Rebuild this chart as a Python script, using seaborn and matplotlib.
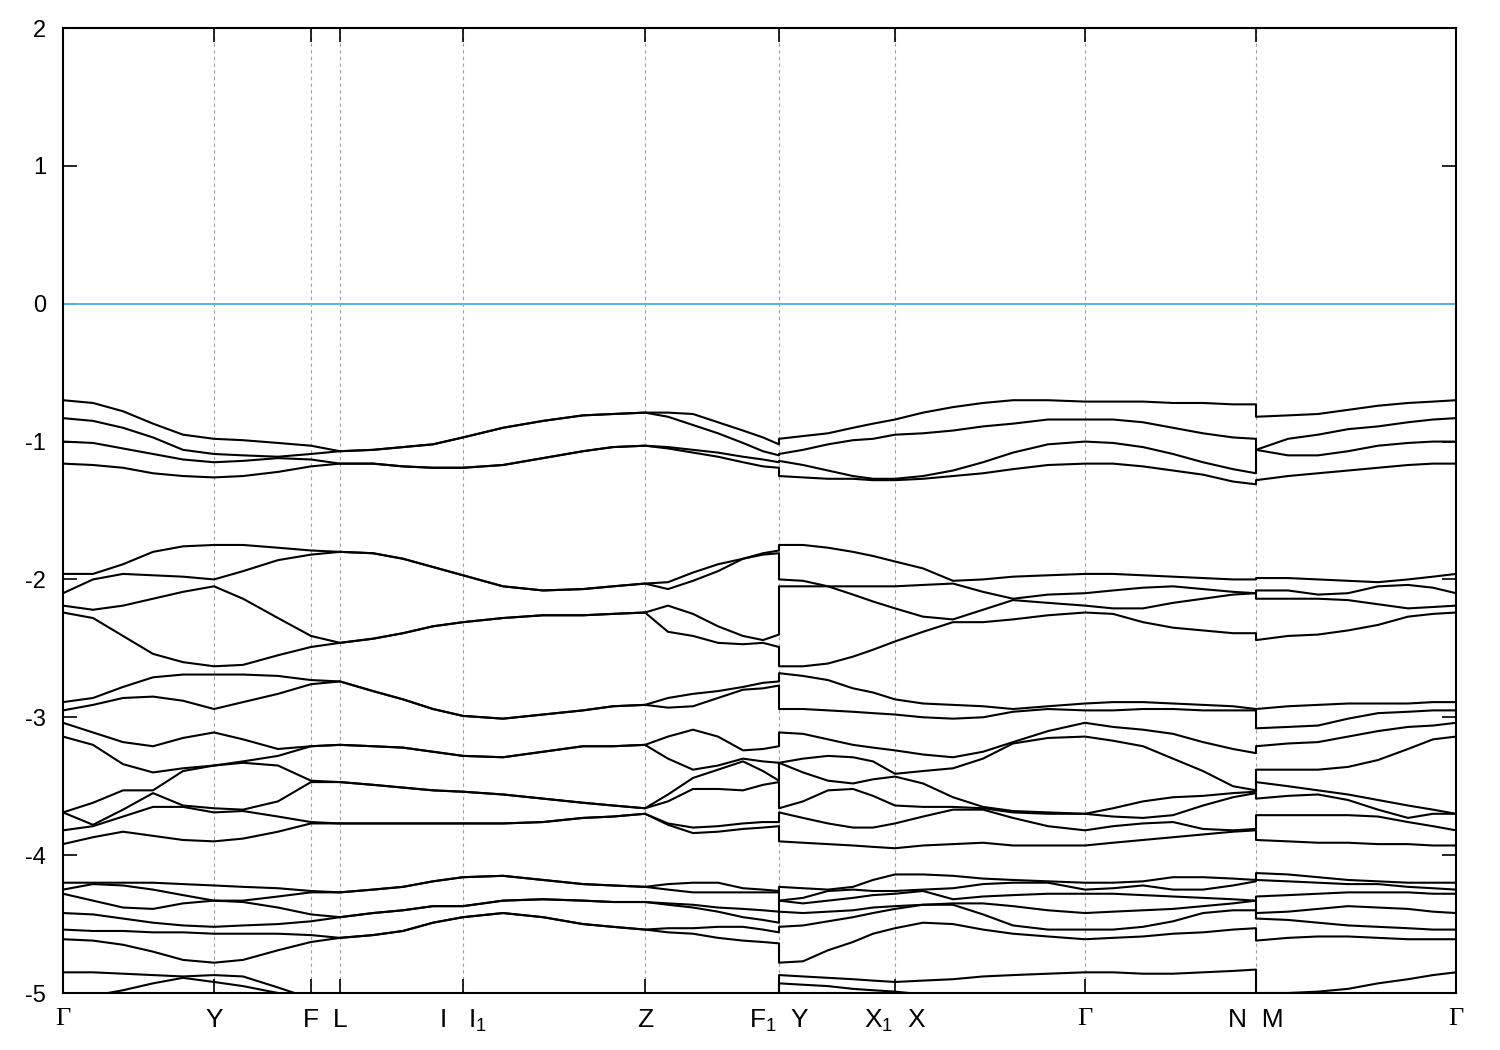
import numpy as np
import pandas as pd
import matplotlib
matplotlib.use("Agg")
import matplotlib.pyplot as plt
import seaborn as sns

# ── k-path (arb. units). Repeated value = jump at F1|Y and N|M ────────────────
k_path = [0, 30, 60, 90, 120, 151, 180, 215, 248, 277, 310, 340, 370, 400,
          440, 480, 520, 550, 582, 605, 630, 655, 680, 700, 716, 716, 740,
          765, 790, 810, 832, 860, 890, 920, 950, 985, 1022, 1050, 1080, 1110,
          1140, 1170, 1193, 1193, 1225, 1255, 1285, 1315, 1345, 1370, 1393]

tick_pos = [0, 151, 248, 277, 400, 582, 716, 832, 1022, 1193, 1393]
tick_labels = ["Γ", "Y", "F", "L", "I   I$_1$", "Z", "F$_1$  Y", "X$_1$  X",
               "Γ", "N  M", "Γ"]

# ── Energies (eV), one row per k point, highest band first ───────────────────
bands_top = [
    [-0.70, -0.83, -1.00, -1.16], [-0.72, -0.85, -1.01, -1.17],
    [-0.78, -0.90, -1.05, -1.19], [-0.87, -0.97, -1.09, -1.23],
    [-0.95, -1.06, -1.13, -1.25], [-0.98, -1.09, -1.15, -1.26],
    [-0.99, -1.10, -1.14, -1.25], [-1.01, -1.11, -1.12, -1.22],
    [-1.03, -1.09, -1.13, -1.18], [-1.07, -1.07, -1.16, -1.16],
    [-1.06, -1.06, -1.16, -1.16], [-1.04, -1.04, -1.18, -1.18],
    [-1.02, -1.02, -1.19, -1.19], [-0.97, -0.97, -1.19, -1.19],
    [-0.90, -0.90, -1.17, -1.17], [-0.85, -0.85, -1.12, -1.12],
    [-0.81, -0.81, -1.07, -1.07], [-0.80, -0.80, -1.04, -1.04],
    [-0.79, -0.79, -1.03, -1.03], [-0.79, -0.82, -1.04, -1.05],
    [-0.80, -0.88, -1.06, -1.08], [-0.86, -0.94, -1.08, -1.11],
    [-0.92, -1.01, -1.11, -1.15], [-0.97, -1.07, -1.13, -1.18],
    [-1.02, -1.10, -1.15, -1.19], [-0.98, -1.09, -1.14, -1.25],
    [-0.96, -1.06, -1.17, -1.26], [-0.94, -1.02, -1.21, -1.27],
    [-0.90, -0.99, -1.25, -1.27], [-0.87, -0.98, -1.27, -1.28],
    [-0.84, -0.95, -1.27, -1.28], [-0.79, -0.94, -1.25, -1.27],
    [-0.75, -0.92, -1.21, -1.25], [-0.72, -0.89, -1.15, -1.23],
    [-0.70, -0.87, -1.08, -1.20], [-0.70, -0.84, -1.02, -1.17],
    [-0.71, -0.84, -1.00, -1.16], [-0.71, -0.84, -1.01, -1.16],
    [-0.71, -0.86, -1.04, -1.18], [-0.72, -0.90, -1.09, -1.21],
    [-0.72, -0.94, -1.15, -1.24], [-0.73, -0.97, -1.20, -1.29],
    [-0.73, -0.98, -1.23, -1.31], [-0.82, -1.06, -1.06, -1.28],
    [-0.81, -0.98, -1.10, -1.25], [-0.80, -0.95, -1.10, -1.23],
    [-0.77, -0.91, -1.07, -1.21], [-0.74, -0.89, -1.03, -1.19],
    [-0.72, -0.86, -1.01, -1.17], [-0.71, -0.84, -1.00, -1.16],
    [-0.70, -0.83, -1.00, -1.16],
]

bands_mid = [
    [-1.96, -2.10, -2.19, -2.24], [-1.96, -2.00, -2.22, -2.28],
    [-1.89, -1.96, -2.19, -2.41], [-1.80, -1.97, -2.14, -2.54],
    [-1.76, -1.98, -2.09, -2.60], [-1.75, -2.00, -2.05, -2.63],
    [-1.75, -1.94, -2.14, -2.62], [-1.77, -1.86, -2.28, -2.55],
    [-1.79, -1.82, -2.41, -2.49], [-1.80, -1.80, -2.46, -2.46],
    [-1.81, -1.81, -2.43, -2.43], [-1.85, -1.85, -2.39, -2.39],
    [-1.91, -1.91, -2.34, -2.34], [-1.97, -1.97, -2.31, -2.31],
    [-2.05, -2.05, -2.28, -2.28], [-2.08, -2.08, -2.26, -2.26],
    [-2.07, -2.07, -2.26, -2.26], [-2.05, -2.05, -2.25, -2.25],
    [-2.03, -2.03, -2.24, -2.24], [-2.02, -2.07, -2.19, -2.38],
    [-1.95, -2.01, -2.25, -2.41], [-1.89, -1.94, -2.34, -2.46],
    [-1.85, -1.85, -2.41, -2.47], [-1.81, -1.82, -2.44, -2.46],
    [-1.79, -1.81, -2.40, -2.49], [-1.75, -2.00, -2.05, -2.63],
    [-1.75, -2.01, -2.05, -2.63], [-1.77, -2.05, -2.05, -2.61],
    [-1.80, -2.05, -2.11, -2.56], [-1.83, -2.05, -2.16, -2.51],
    [-1.87, -2.05, -2.21, -2.45], [-1.92, -2.04, -2.27, -2.38],
    [-2.01, -2.03, -2.29, -2.31], [-2.00, -2.09, -2.22, -2.31],
    [-1.98, -2.14, -2.15, -2.29], [-1.97, -2.11, -2.17, -2.26],
    [-1.96, -2.10, -2.19, -2.24], [-1.96, -2.08, -2.21, -2.25],
    [-1.97, -2.06, -2.21, -2.31], [-1.98, -2.05, -2.17, -2.35],
    [-1.99, -2.07, -2.14, -2.37], [-2.00, -2.09, -2.11, -2.39],
    [-2.00, -2.10, -2.10, -2.39], [-1.99, -2.08, -2.14, -2.44],
    [-1.99, -2.08, -2.14, -2.41], [-2.00, -2.11, -2.14, -2.40],
    [-2.01, -2.10, -2.15, -2.37], [-2.02, -2.05, -2.18, -2.33],
    [-2.00, -2.04, -2.21, -2.27], [-1.98, -2.06, -2.20, -2.25],
    [-1.96, -2.10, -2.19, -2.24],
]

bands_low = [
    [-2.89, -2.95, -3.04, -3.14, -3.69, -3.69, -3.82, -3.92],
    [-2.86, -2.91, -3.11, -3.20, -3.62, -3.78, -3.79, -3.87],
    [-2.78, -2.86, -3.18, -3.34, -3.53, -3.67, -3.72, -3.83],
    [-2.71, -2.85, -3.21, -3.40, -3.53, -3.55, -3.65, -3.86],
    [-2.69, -2.88, -3.15, -3.37, -3.39, -3.64, -3.65, -3.89],
    [-2.69, -2.94, -3.11, -3.35, -3.35, -3.66, -3.69, -3.90],
    [-2.69, -2.89, -3.16, -3.32, -3.33, -3.67, -3.68, -3.88],
    [-2.70, -2.83, -3.23, -3.28, -3.35, -3.61, -3.72, -3.83],
    [-2.73, -2.76, -3.21, -3.21, -3.46, -3.47, -3.76, -3.77],
    [-2.74, -2.74, -3.20, -3.20, -3.47, -3.47, -3.77, -3.77],
    [-2.81, -2.81, -3.21, -3.21, -3.49, -3.49, -3.77, -3.77],
    [-2.87, -2.87, -3.22, -3.22, -3.51, -3.51, -3.77, -3.77],
    [-2.94, -2.94, -3.25, -3.25, -3.53, -3.53, -3.77, -3.77],
    [-2.99, -2.99, -3.28, -3.28, -3.54, -3.54, -3.77, -3.77],
    [-3.01, -3.01, -3.29, -3.29, -3.56, -3.56, -3.77, -3.77],
    [-2.98, -2.98, -3.25, -3.25, -3.59, -3.59, -3.76, -3.76],
    [-2.95, -2.95, -3.21, -3.21, -3.62, -3.62, -3.73, -3.73],
    [-2.92, -2.92, -3.21, -3.21, -3.64, -3.64, -3.72, -3.72],
    [-2.91, -2.91, -3.20, -3.20, -3.66, -3.66, -3.70, -3.70],
    [-2.86, -2.93, -3.14, -3.30, -3.56, -3.61, -3.77, -3.78],
    [-2.83, -2.92, -3.09, -3.38, -3.44, -3.52, -3.80, -3.84],
    [-2.81, -2.86, -3.14, -3.35, -3.38, -3.52, -3.79, -3.83],
    [-2.78, -2.80, -3.24, -3.30, -3.32, -3.53, -3.77, -3.81],
    [-2.75, -2.79, -3.23, -3.32, -3.39, -3.49, -3.76, -3.80],
    [-2.74, -2.77, -3.21, -3.33, -3.46, -3.47, -3.76, -3.79],
    [-2.68, -2.94, -3.11, -3.33, -3.33, -3.66, -3.69, -3.90],
    [-2.70, -2.94, -3.12, -3.30, -3.40, -3.61, -3.73, -3.91],
    [-2.73, -2.95, -3.16, -3.28, -3.46, -3.53, -3.77, -3.92],
    [-2.79, -2.96, -3.20, -3.29, -3.48, -3.52, -3.80, -3.93],
    [-2.82, -2.97, -3.22, -3.32, -3.45, -3.57, -3.80, -3.94],
    [-2.87, -2.98, -3.24, -3.41, -3.43, -3.64, -3.77, -3.95],
    [-2.90, -3.00, -3.27, -3.39, -3.48, -3.65, -3.72, -3.93],
    [-2.91, -3.01, -3.29, -3.37, -3.58, -3.65, -3.67, -3.92],
    [-2.92, -3.00, -3.25, -3.30, -3.65, -3.66, -3.67, -3.91],
    [-2.94, -2.96, -3.18, -3.19, -3.68, -3.69, -3.73, -3.93],
    [-2.92, -2.94, -3.10, -3.15, -3.69, -3.70, -3.79, -3.93],
    [-2.90, -2.95, -3.04, -3.14, -3.70, -3.70, -3.82, -3.93],
    [-2.89, -2.95, -3.07, -3.17, -3.66, -3.72, -3.79, -3.91],
    [-2.89, -2.94, -3.09, -3.21, -3.61, -3.73, -3.77, -3.89],
    [-2.90, -2.94, -3.12, -3.30, -3.58, -3.71, -3.76, -3.87],
    [-2.91, -2.95, -3.18, -3.39, -3.57, -3.64, -3.81, -3.85],
    [-2.92, -2.95, -3.23, -3.50, -3.55, -3.58, -3.82, -3.83],
    [-2.94, -2.95, -3.26, -3.53, -3.54, -3.55, -3.81, -3.82],
    [-2.94, -3.08, -3.21, -3.38, -3.47, -3.59, -3.71, -3.89],
    [-2.92, -3.07, -3.19, -3.38, -3.50, -3.57, -3.71, -3.90],
    [-2.91, -3.06, -3.18, -3.38, -3.53, -3.56, -3.71, -3.91],
    [-2.90, -3.01, -3.14, -3.36, -3.56, -3.60, -3.71, -3.91],
    [-2.90, -2.97, -3.10, -3.31, -3.60, -3.67, -3.72, -3.92],
    [-2.90, -2.96, -3.07, -3.23, -3.64, -3.73, -3.76, -3.92],
    [-2.89, -2.95, -3.06, -3.16, -3.67, -3.70, -3.79, -3.93],
    [-2.89, -2.95, -3.04, -3.14, -3.70, -3.70, -3.82, -3.93],
]

bands_deep = [
    [-4.20, -4.25, -4.28, -4.42, -4.54, -4.61], [-4.20, -4.21, -4.33, -4.43, -4.55, -4.62],
    [-4.20, -4.22, -4.38, -4.46, -4.55, -4.65], [-4.20, -4.25, -4.39, -4.49, -4.56, -4.70],
    [-4.21, -4.29, -4.35, -4.51, -4.56, -4.76], [-4.22, -4.33, -4.33, -4.52, -4.57, -4.78],
    [-4.23, -4.33, -4.34, -4.51, -4.57, -4.76], [-4.24, -4.30, -4.38, -4.50, -4.57, -4.69],
    [-4.26, -4.27, -4.43, -4.48, -4.58, -4.63], [-4.27, -4.27, -4.45, -4.45, -4.60, -4.60],
    [-4.25, -4.25, -4.42, -4.42, -4.58, -4.58], [-4.23, -4.23, -4.40, -4.40, -4.55, -4.55],
    [-4.19, -4.19, -4.37, -4.37, -4.49, -4.49], [-4.16, -4.16, -4.37, -4.37, -4.45, -4.45],
    [-4.15, -4.15, -4.33, -4.33, -4.42, -4.42], [-4.18, -4.18, -4.32, -4.32, -4.45, -4.45],
    [-4.21, -4.21, -4.33, -4.33, -4.50, -4.50], [-4.22, -4.22, -4.34, -4.34, -4.52, -4.52],
    [-4.23, -4.23, -4.34, -4.34, -4.54, -4.54], [-4.21, -4.25, -4.35, -4.36, -4.53, -4.56],
    [-4.20, -4.27, -4.36, -4.38, -4.53, -4.57], [-4.20, -4.27, -4.38, -4.41, -4.52, -4.60],
    [-4.24, -4.27, -4.39, -4.45, -4.52, -4.62], [-4.25, -4.27, -4.40, -4.47, -4.54, -4.63],
    [-4.26, -4.27, -4.41, -4.49, -4.56, -4.64], [-4.23, -4.33, -4.33, -4.41, -4.52, -4.78],
    [-4.24, -4.31, -4.35, -4.42, -4.51, -4.77], [-4.25, -4.26, -4.33, -4.41, -4.48, -4.69],
    [-4.23, -4.25, -4.31, -4.40, -4.45, -4.63], [-4.18, -4.26, -4.29, -4.38, -4.42, -4.57],
    [-4.14, -4.26, -4.28, -4.37, -4.39, -4.53], [-4.14, -4.25, -4.26, -4.36, -4.36, -4.49],
    [-4.15, -4.24, -4.32, -4.35, -4.36, -4.50], [-4.17, -4.21, -4.30, -4.35, -4.43, -4.54],
    [-4.18, -4.20, -4.29, -4.37, -4.51, -4.57], [-4.19, -4.20, -4.28, -4.40, -4.54, -4.59],
    [-4.20, -4.25, -4.28, -4.42, -4.54, -4.61], [-4.20, -4.24, -4.28, -4.41, -4.54, -4.60],
    [-4.19, -4.22, -4.29, -4.40, -4.52, -4.59], [-4.16, -4.25, -4.30, -4.39, -4.48, -4.57],
    [-4.16, -4.25, -4.31, -4.37, -4.42, -4.56], [-4.17, -4.22, -4.32, -4.35, -4.40, -4.54],
    [-4.18, -4.19, -4.33, -4.33, -4.40, -4.53], [-4.13, -4.18, -4.30, -4.42, -4.46, -4.62],
    [-4.14, -4.19, -4.29, -4.41, -4.47, -4.60], [-4.16, -4.20, -4.28, -4.39, -4.49, -4.59],
    [-4.18, -4.21, -4.27, -4.37, -4.51, -4.59], [-4.19, -4.21, -4.27, -4.38, -4.52, -4.60],
    [-4.20, -4.23, -4.27, -4.39, -4.53, -4.61], [-4.20, -4.24, -4.28, -4.41, -4.54, -4.61],
    [-4.20, -4.25, -4.28, -4.42, -4.54, -4.61],
]

bands_core = [
    [-4.85, -5.05, -5.15], [-4.85, -5.02, -5.14], [-4.86, -4.98, -5.12],
    [-4.87, -4.93, -5.10], [-4.88, -4.89, -5.08], [-4.87, -4.92, -5.05],
    [-4.88, -4.95, -5.06], [-4.96, -5.00, -5.08], [-5.04, -5.06, -5.10],
    [-5.08, -5.08, -5.12], [-5.10, -5.10, -5.15], [-5.10, -5.10, -5.15],
    [-5.10, -5.10, -5.15], [-5.10, -5.10, -5.15], [-5.10, -5.10, -5.15],
    [-5.10, -5.10, -5.15], [-5.10, -5.10, -5.15], [-5.10, -5.10, -5.15],
    [-5.10, -5.10, -5.15], [-5.10, -5.10, -5.15], [-5.10, -5.10, -5.15],
    [-5.10, -5.10, -5.15], [-5.08, -5.10, -5.15], [-5.05, -5.08, -5.15],
    [-5.02, -5.05, -5.15], [-4.87, -4.93, -5.10], [-4.88, -4.94, -5.10],
    [-4.89, -4.95, -5.10], [-4.90, -4.97, -5.10], [-4.91, -4.98, -5.10],
    [-4.92, -4.99, -5.10], [-4.91, -5.01, -5.10], [-4.90, -5.03, -5.12],
    [-4.88, -5.04, -5.13], [-4.87, -5.05, -5.14], [-4.86, -5.05, -5.15],
    [-4.85, -5.05, -5.15], [-4.85, -5.05, -5.15], [-4.86, -5.06, -5.15],
    [-4.86, -5.06, -5.15], [-4.85, -5.06, -5.15], [-4.84, -5.06, -5.15],
    [-4.83, -5.06, -5.15], [-5.00, -5.02, -5.15], [-5.00, -5.02, -5.15],
    [-4.99, -5.03, -5.15], [-4.97, -5.04, -5.15], [-4.93, -5.05, -5.15],
    [-4.90, -5.05, -5.15], [-4.87, -5.05, -5.15], [-4.85, -5.05, -5.15],
]

# ── Long table: one line per band ────────────────────────────────────────────
rows = []
band_id = 0
for group in [bands_top, bands_mid, bands_low, bands_deep, bands_core]:
    arr = np.array(group)
    for j in range(arr.shape[1]):
        for kk, e in zip(k_path, arr[:, j]):
            rows.append((band_id, kk, e))
        band_id += 1
df = pd.DataFrame(rows, columns=["band", "k", "E"])

# ── Plot ─────────────────────────────────────────────────────────────────────
sns.set_style("ticks")
plt.rcParams["font.family"] = ["Liberation Sans", "DejaVu Sans"]
plt.rcParams["mathtext.fontset"] = "custom"
plt.rcParams["mathtext.rm"] = "Liberation Sans"
plt.rcParams["mathtext.it"] = "Liberation Sans"
plt.rcParams["axes.unicode_minus"] = False

fig = plt.figure(figsize=(15, 10.5), dpi=100)
ax = fig.add_axes([63 / 1500, 1 - 993 / 1050, 1393 / 1500, 965 / 1050])

for x in tick_pos[1:-1]:
    ax.axvline(x, color="#a0a0a0", lw=0.8, ls=(0, (3, 3)), zorder=0)
ax.axhline(0, color="#56b4e9", lw=1.4, zorder=1)

sns.lineplot(data=df, x="k", y="E", units="band", estimator=None, sort=False,
             color="black", lw=1.5, ax=ax, legend=False)

ax.set_xlim(0, 1393)
ax.set_ylim(-5, 2)
ax.set_xticks(tick_pos)
ax.set_xticklabels(tick_labels)
ax.set_yticks(range(-5, 3))
ax.set_xlabel("")
ax.set_ylabel("")
ax.tick_params(axis="both", direction="in", length=10, width=1.2,
               colors="black")
ax.tick_params(axis="y", left=True, right=True, pad=12, labelsize=17)
ax.tick_params(axis="x", bottom=True, top=True, pad=11, labelsize=19)
for lab in ax.get_xticklabels():
    if lab.get_text() == "Γ":
        lab.set_fontfamily("Liberation Serif")
for sp in ax.spines.values():
    sp.set_linewidth(1.5)
    sp.set_color("black")

fig.savefig("out.png", dpi=100)
